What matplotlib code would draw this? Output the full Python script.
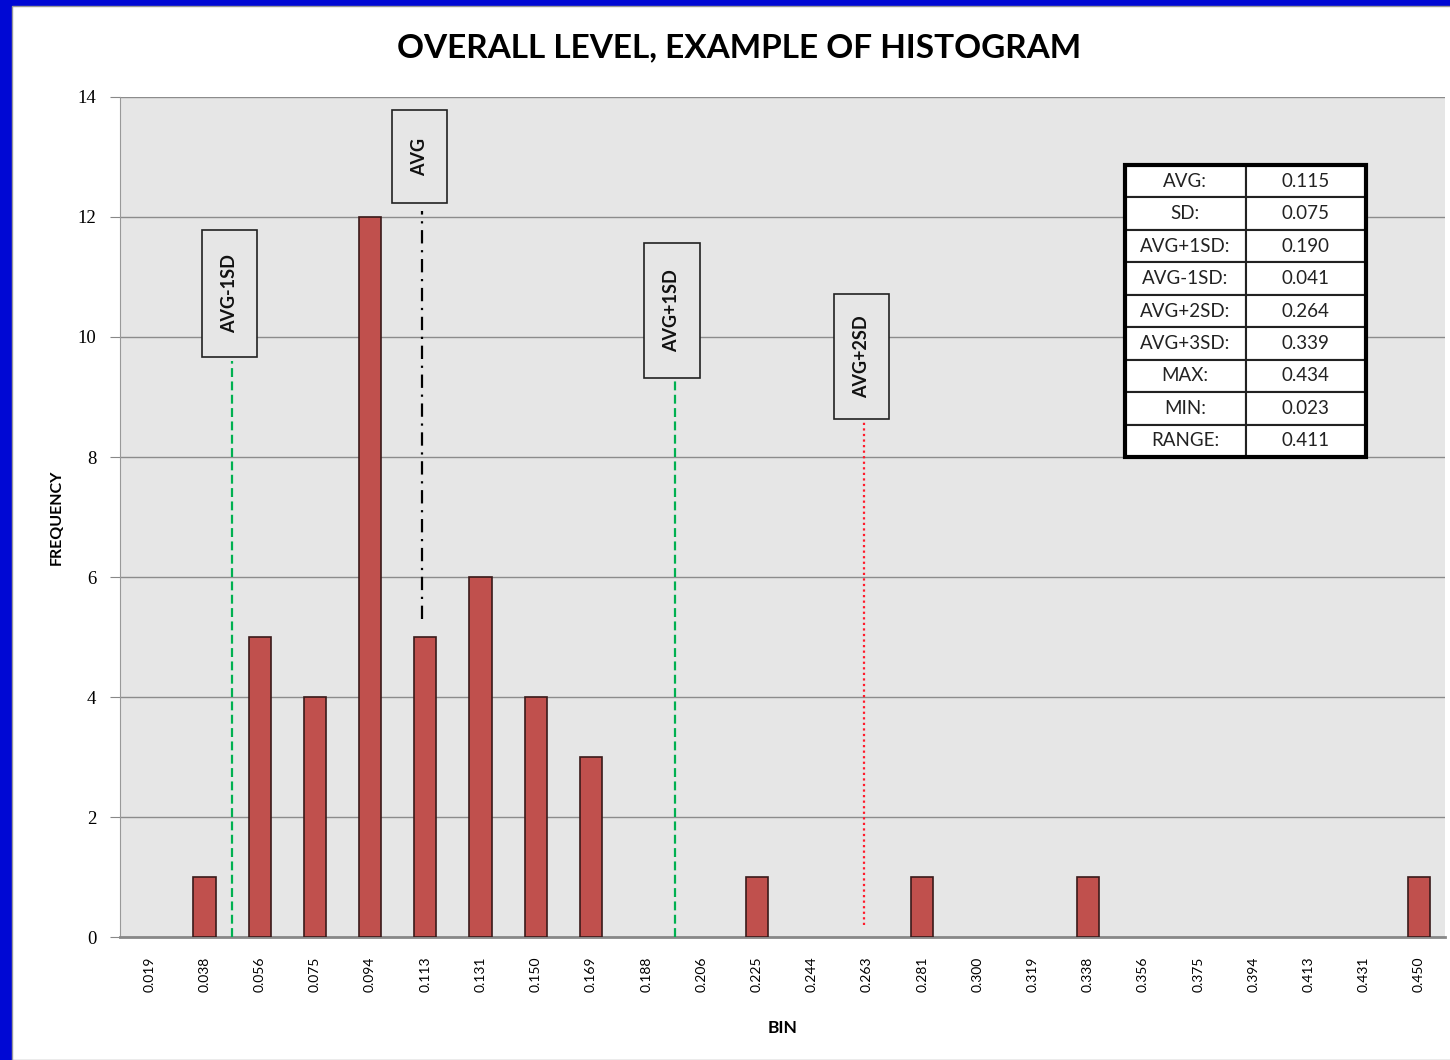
import numpy as np
import matplotlib
matplotlib.use('Agg')
import matplotlib.pyplot as plt
from matplotlib.patches import Rectangle

# bins and counts
bins = ['0.019', '0.038', '0.056', '0.075', '0.094', '0.113', '0.131', '0.150',
        '0.169', '0.188', '0.206', '0.225', '0.244', '0.263', '0.281', '0.300',
        '0.319', '0.338', '0.356', '0.375', '0.394', '0.413', '0.431', '0.450']
counts = [0, 1, 5, 4, 12, 5, 6, 4, 3, 0, 0, 1, 0, 0, 1, 0, 0, 1, 0, 0, 0, 0, 0, 1]

# marker lines (position in bin units, y from, y to)
marker_names = ['AVG-1SD', 'AVG', 'AVG+1SD', 'AVG+2SD']
marker_pos = [1.53, 4.97, 9.55, 12.98]
marker_y0 = [0.0, 5.3, 0.0, 0.2]
marker_y1 = [9.6, 12.1, 9.3, 8.6]
label_box_y = [(9.67, 11.78), (12.23, 13.78), (9.32, 11.57), (8.63, 10.72)]

stat_names = ['AVG:', 'SD:', 'AVG+1SD:', 'AVG-1SD:', 'AVG+2SD:', 'AVG+3SD:', 'MAX:', 'MIN:', 'RANGE:']
stat_values = ['0.115', '0.075', '0.190', '0.041', '0.264', '0.339', '0.434', '0.023', '0.411']

fnt = 'Lato'
fig = plt.figure(figsize=(14.5, 10.6), dpi=100, facecolor='#0008d4')
bg = Rectangle((12 / 1450, 0), 1, 1054 / 1060, transform=fig.transFigure,
               facecolor='white', edgecolor='#999999', lw=1, zorder=-10)
fig.add_artist(bg)

ax = fig.add_axes([120 / 1450, 123 / 1060, 1325 / 1450, 840 / 1060])
ax.set_facecolor('#e6e6e6')

x = np.arange(len(bins))
edge_w = [1.2 if c > 0 else 0 for c in counts]  # no outline on empty bins
ax.bar(x + 0.03, counts, width=0.4, color='#c0504d', edgecolor='#3a1a1a',
       linewidth=edge_w, zorder=3)

styles = [dict(color='#00b050', ls=(0, (4, 2)), lw=1.6),
          dict(color='black', ls=(0, (6, 3, 1, 3)), lw=1.6),
          dict(color='#00b050', ls=(0, (4, 2)), lw=1.6),
          dict(color='#ff1a2a', ls=(0, (1, 1.5)), lw=1.6)]
for name, xp, y0, y1, (by0, by1), st in zip(marker_names, marker_pos, marker_y0,
                                            marker_y1, label_box_y, styles):
    ax.plot([xp, xp], [y0, y1], zorder=4, **st)
    bx = xp - 0.05
    ax.add_patch(Rectangle((bx - 0.5, by0), 1.0, by1 - by0, facecolor='#e6e6e6',
                           edgecolor='#222222', lw=1.2, zorder=5))
    ax.text(bx, (by0 + by1) / 2, name, rotation=90, ha='center', va='center',
            fontsize=13, fontweight='bold', family=fnt, color='#111111', zorder=6)

ax.set_xlim(-0.5, len(bins) - 0.5)
ax.set_ylim(0, 14)
ax.set_yticks(np.arange(0, 15, 2))
ax.set_yticklabels([str(v) for v in range(0, 15, 2)], family='Liberation Serif', fontsize=13.5)
ax.set_xticks(x + 0.03)
ax.set_xticklabels(bins, rotation=90, fontsize=10, family=fnt)
ax.tick_params(axis='x', length=0, pad=14)
ax.tick_params(axis='y', length=7, color='#888888', pad=10)
ax.grid(axis='y', color='#8c8c8c', lw=1, zorder=1)
ax.set_axisbelow(True)
for s in ['top', 'right']:
    ax.spines[s].set_visible(False)
ax.spines['left'].set_color('#999999')
ax.spines['bottom'].set_color('#888888')
ax.spines['bottom'].set_linewidth(2)

ax.set_ylabel('FREQUENCY', fontsize=11.5, fontweight='bold', family=fnt, labelpad=10)
ax.set_xlabel('BIN', fontsize=12.5, fontweight='bold', family=fnt, labelpad=20)
fig.text(0.51, 0.955, 'OVERALL LEVEL, EXAMPLE OF HISTOGRAM', ha='center', va='center',
         fontsize=24, fontweight='bold', family=fnt)

# stats table
tbl = ax.table(cellText=[[n, v] for n, v in zip(stat_names, stat_values)],
               cellLoc='center', bbox=[0.7585, 0.5714, 0.182, 0.3476], zorder=7)
tbl.auto_set_font_size(False)
for (r, c), cell in tbl.get_celld().items():
    cell.set_facecolor('white')
    cell.set_edgecolor('#222222')
    cell.set_linewidth(1.5)
    cell.get_text().set_fontsize(13.5)
    cell.get_text().set_family(fnt)
    cell.get_text().set_color('#222222')
ax.add_patch(Rectangle((0.7585, 0.5714), 0.182, 0.3476, transform=ax.transAxes,
                       fill=False, edgecolor='black', lw=3, zorder=8))

fig.savefig('out.png', dpi=100, facecolor=fig.get_facecolor())
